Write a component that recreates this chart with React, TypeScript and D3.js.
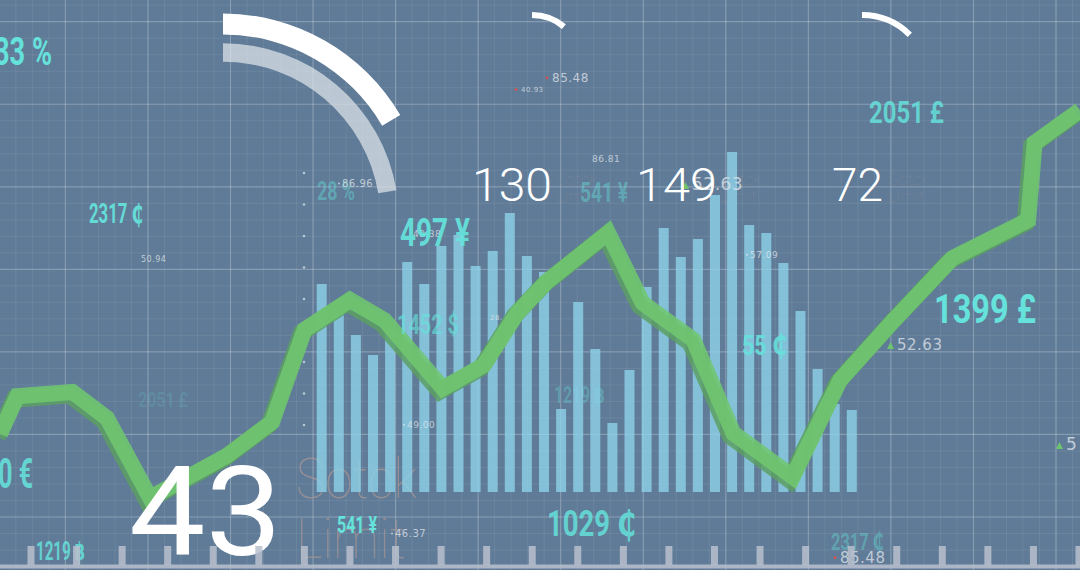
import React from "react";
import * as d3 from "d3";

const W = 1080;
const H = 570;

// Bar series (heights in chart units)
const barValues = [
  208, 179, 157, 137, 163, 230, 208, 246, 257, 226, 241, 279, 236, 220, 83, 190,
  143, 69, 122, 205, 264, 235, 253, 297, 340, 267, 259, 229, 181, 123, 88, 82,
];

// Green trend line: position along the width (0-100) and value (0-100)
const lineT = [
  0, 1.6, 6.7, 9.9, 13.9, 21.0, 25.2, 28.2, 32.4, 35.6, 41.0, 44.8, 47.9, 50.6,
  56.3, 59.5, 64.2, 67.9, 73.4, 77.8, 82.7, 88.2, 95.2, 95.8, 100,
];
const lineValues = [
  18.1, 27.1, 28.1, 21.9, 2.9, 12.9, 21.0, 42.9, 50.0, 45.2, 29.0, 34.5, 46.9,
  54.3, 66.0, 49.3, 40.5, 18.3, 7.9, 31.0, 45.0, 60.0, 69.0, 87.4, 95.2,
];

// Overlay text
const bigNumbers = ["130", "149", "72"];
const heroNumber = "43";
const priceLabels = [
  "33 %", "2317 ₵", "1399 £", "2051 £", "497 ¥", "1452 $", "55 ₵", "1029 ₵",
  "541 ¥", "1219 ฿", "2317 ₵", "28 %", "541 ¥", "2051 £", "1219 ฿", "10 €",
];
const tickerLabels = [
  "85.48", "40.93", "86.81", "86.96", "52.63", "57.09", "50.94", "28.4",
  "49.00", "46.37", "52.63", "85.48", "5", "49.38",
];
const stockWords = ["Sotck", "Limit"];

export default function App() {
  const yBar = d3.scaleLinear().domain([0, 350]).range([492, 142]);
  const xBar = d3
    .scaleBand<number>()
    .domain(d3.range(barValues.length))
    .range([316.7, 856.8])
    .paddingInner(0.415)
    .paddingOuter(0);

  const xLine = d3.scaleLinear().domain([0, 100]).range([0, W]);
  const yLine = d3.scaleLinear().domain([0, 100]).range([510, 90]);
  const linePath = d3
    .line<number>()
    .x((_, i) => xLine(lineT[i]))
    .y((d) => yLine(d))(lineValues) as string;

  const deg = (a: number) => (a * Math.PI) / 180;
  const arc = d3.arc<any>();
  const arcs = [
    { cx: 223, cy: 219, ri: 184.5, ro: 205.5, end: 59.6, fill: "#ffffff", op: 1 },
    { cx: 223, cy: 219, ri: 157.3, ro: 175.8, end: 80.6, fill: "#dfe4ea", op: 0.72 },
    { cx: 532, cy: 64.6, ri: 46.6, ro: 52.6, end: 40, fill: "#ffffff", op: 1 },
    { cx: 862, cy: 82.6, ri: 64.6, ro: 70.6, end: 45, fill: "#ffffff", op: 1 },
  ];

  const major = 82.55;
  const minor = major / 5;
  const vMinor = d3.range(65.4 - major, W + 1, minor);
  const hMinor = d3.range(21.7 - major, H + 1, minor);
  const vMajor = d3.range(65.4, W + 1, major);
  const hMajor = d3.range(21.7, H + 1, major);

  const rulerX = d3.scaleLinear().domain([0, 23]).range([31, 1079]);
  const dotsY = d3.scaleLinear().domain([0, 8]).range([173, 425]);

  const cyan = "#66e2dc";
  const condensed = "Roboto, 'DejaVu Sans', sans-serif";

  // [label index, x, baseline, fontSize, width, opacity]
  const cyanLayout: [number, number, number, number, number, number][] = [
    [0, -6, 65, 39, 58, 1],
    [1, 89, 223, 27, 54, 0.95],
    [2, 934, 323, 40, 102, 1],
    [3, 869, 123, 32, 75, 0.85],
    [4, 400, 246, 38, 70, 0.95],
    [5, 397, 334, 28, 62, 0.65],
    [6, 742, 355, 28, 45, 0.9],
    [7, 547, 536, 36, 89, 0.85],
    [8, 337, 533, 23, 40, 1],
    [9, 36, 560, 25, 49, 0.85],
    [10, 831, 550, 24, 53, 0.4],
    [11, 317, 200, 25, 38, 0.42],
    [12, 580, 202, 27, 48, 0.42],
    [13, 138, 407, 21, 50, 0.16],
    [14, 554, 403, 23, 51, 0.32],
    [15, -16, 488, 42, 49, 0.9],
  ];

  // [label index, x, baseline, size, marker: 0 none,1 red dot,2 green dot,3 green tri]
  const tickerLayout: [number, number, number, number, number][] = [
    [0, 552, 82, 12, 1],
    [1, 521, 92, 7, 1],
    [2, 592, 162, 9, 0],
    [3, 342, 187, 10, 2],
    [4, 692, 190, 17, 3],
    [5, 750, 258, 9, 2],
    [6, 141, 262, 8, 0],
    [7, 490, 320, 7, 0],
    [8, 407, 428, 9, 2],
    [9, 395, 537, 10, 2],
    [10, 897, 350, 15, 3],
    [11, 840, 563, 15, 1],
    [12, 1066, 450, 17, 3],
    [13, 413, 237, 9, 0],
  ];

  const bigLayout: [number, number, number][] = [
    [472, 201, 80],
    [636, 201, 81],
    [832, 201, 51],
  ];

  const smallWordsX = [556, 720, 888];

  return (
    <svg
      width={W}
      height={H}
      viewBox={`0 0 ${W} ${H}`}
      style={{ position: "absolute", left: 0, top: 0, display: "block" }}
    >
      <rect x={0} y={0} width={W} height={H} fill="#5f7b97" />
      {/* grid */}
      <g stroke="#ffffff" strokeOpacity={0.08} strokeWidth={1}>
        {vMinor.map((x, i) => (
          <line key={"vm" + i} x1={x} x2={x} y1={0} y2={H} />
        ))}
        {hMinor.map((y, i) => (
          <line key={"hm" + i} x1={0} x2={W} y1={y} y2={y} />
        ))}
      </g>
      <g stroke="#ffffff" strokeOpacity={0.2} strokeWidth={1.2}>
        {vMajor.map((x, i) => (
          <line key={"vM" + i} x1={x} x2={x} y1={0} y2={H} />
        ))}
        {hMajor.map((y, i) => (
          <line key={"hM" + i} x1={0} x2={W} y1={y} y2={y} />
        ))}
      </g>

      {/* arcs */}
      {arcs.map((a, i) => (
        <path
          key={"arc" + i}
          transform={`translate(${a.cx},${a.cy})`}
          d={
            arc({
              innerRadius: a.ri,
              outerRadius: a.ro,
              startAngle: 0,
              endAngle: deg(a.end),
            }) as string
          }
          fill={a.fill}
          fillOpacity={a.op}
        />
      ))}

      {/* dotted column */}
      {d3.range(9).map((i) => (
        <circle key={"dot" + i} cx={304} cy={dotsY(i)} r={1.3} fill="#dfe5ec" opacity={0.7} />
      ))}

      {/* faint stock words */}
      <g fontFamily="Roboto, 'DejaVu Sans', sans-serif" fontWeight={100} fill="#b39a95">
        <text x={296} y={498} fontSize={56} fillOpacity={0.65} textLength={121} lengthAdjust="spacingAndGlyphs">
          {stockWords[0]}
        </text>
        <text x={296} y={558} fontSize={56} fillOpacity={0.6} textLength={110} lengthAdjust="spacingAndGlyphs">
          {stockWords[1]}
        </text>
        {smallWordsX.map((x, i) => (
          <g key={"sw" + i} fillOpacity={0.3}>
            <text x={x} y={185} fontSize={17}>{stockWords[0]}</text>
            <text x={x} y={202} fontSize={17}>{stockWords[1]}</text>
          </g>
        ))}
      </g>

      {/* faint cyan labels (behind bars) */}
      {cyanLayout
        .filter((c) => c[5] < 0.5)
        .map(([li, x, y, fs, w, op]) => (
          <text
            key={"fc" + li}
            x={x}
            y={y}
            fontSize={fs}
            fontFamily={condensed}
            fontWeight={700}
            fill={cyan}
            fillOpacity={op}
            textLength={w}
            lengthAdjust="spacingAndGlyphs"
          >
            {priceLabels[li]}
          </text>
        ))}

      {/* bars */}
      <g>
        {barValues.map((v, i) => (
          <rect
            key={"bar" + i}
            x={xBar(i)}
            y={yBar(v)}
            width={xBar.bandwidth()}
            height={yBar(0) - yBar(v)}
            fill="#8ed3ea"
            fillOpacity={0.78}
          />
        ))}
      </g>

      {/* tickers */}
      <g fontFamily="'DejaVu Sans', sans-serif" fill="#e2e6ec">
        {tickerLayout.map(([li, x, y, fs, mk]) => (
          <g key={"tk" + li}>
            <text x={x} y={y} fontSize={fs} fillOpacity={0.75} letterSpacing={0.5}>
              {tickerLabels[li]}
            </text>
            {mk === 1 && <circle cx={x - 5} cy={y - fs * 0.35} r={1.4} fill="#d9534f" />}
            {mk === 2 && <circle cx={x - 3} cy={y - fs * 0.35} r={1} fill="#e2e6ec" opacity={0.7} />}
            {mk === 3 && (
              <path
                d={`M${x - 10},${y - 1} L${x - 3},${y - 1} L${x - 6.5},${y - 8} Z`}
                fill="#6cc46c"
              />
            )}
          </g>
        ))}
      </g>

      {/* trend line */}
      <path
        d={linePath}
        transform="translate(-3,3)"
        fill="none"
        stroke="#5c9f63"
        strokeWidth={17}
        strokeLinejoin="miter"
        strokeMiterlimit={3}
        strokeOpacity={0.85}
      />
      <path
        d={linePath}
        fill="none"
        stroke="#6fc66f"
        strokeWidth={16}
        strokeLinejoin="miter"
        strokeMiterlimit={3}
        strokeOpacity={0.88}
      />

      {/* cyan labels */}
      {cyanLayout
        .filter((c) => c[5] >= 0.5)
        .map(([li, x, y, fs, w, op]) => (
          <text
            key={"cc" + li}
            x={x}
            y={y}
            fontSize={fs}
            fontFamily={condensed}
            fontWeight={700}
            fill={cyan}
            fillOpacity={op}
            textLength={w}
            lengthAdjust="spacingAndGlyphs"
          >
            {priceLabels[li]}
          </text>
        ))}

      {/* big white numbers */}
      <g fontFamily="Roboto, 'Open Sans', sans-serif" fill="#ffffff">
        {bigNumbers.map((t, i) => (
          <text
            key={"bn" + i}
            x={bigLayout[i][0]}
            y={bigLayout[i][1]}
            fontSize={46}
            fontWeight={300}
            textLength={bigLayout[i][2]}
            lengthAdjust="spacingAndGlyphs"
          >
            {t}
          </text>
        ))}
        <text x={129} y={555} fontSize={124} fontWeight={400} textLength={153} lengthAdjust="spacingAndGlyphs">
          {heroNumber}
        </text>
      </g>

      {/* bottom ruler */}
      <g fill="#b8c0cc" fillOpacity={0.85}>
        <rect x={0} y={564.5} width={W} height={4} />
        {d3.range(24).map((i) => (
          <rect key={"rt" + i} x={rulerX(i) - 3.5} y={546} width={7} height={19} />
        ))}
      </g>
    </svg>
  );
}
